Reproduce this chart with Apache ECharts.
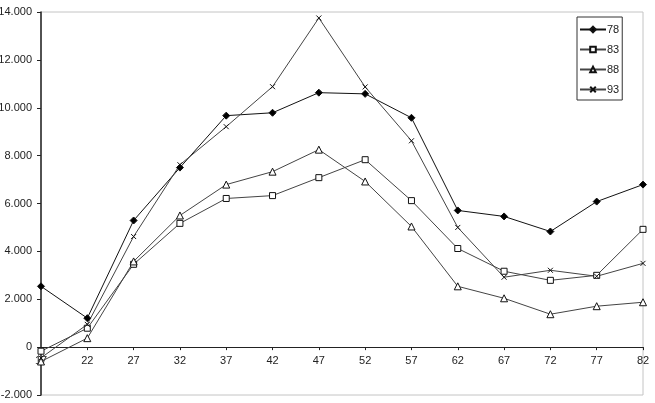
<!DOCTYPE html>
<html lang="en">
  <head>
    <meta charset="UTF-8" />
    <title>Chart</title>
    <script src="https://cdn.jsdelivr.net/npm/echarts@6/dist/echarts.min.js"></script>
    <style>
      body { margin: 0; background: #fff; }
      #main { width: 655px; height: 403px; }
    </style>
  </head>
  <body>
    <div id="main"></div>
    <script>
      // categories (x axis)
      var ages = ["17", "22", "27", "32", "37", "42", "47", "52", "57", "62", "67", "72", "77", "82"];
      // series values
      var s78 = [2540, 1210, 5290, 7500, 9670, 9790, 10630, 10580, 9580, 5710, 5460, 4830, 6080, 6790];
      var s83 = [-170, 790, 3460, 5170, 6210, 6330, 7080, 7830, 6120, 4120, 3170, 2790, 3000, 4920];
      var s88 = [-600, 375, 3580, 5500, 6790, 7330, 8250, 6920, 5040, 2540, 2040, 1375, 1710, 1875];
      var s93 = [-450, 950, 4620, 7620, 9210, 10880, 13750, 10870, 8620, 5000, 2920, 3210, 2960, 3500];
      var yTicks = { min: -2000, max: 14000, interval: 2000 };

      // excel style number: 12000 -> "12.000"
      function fmt(v) {
        if (v === 0) return "0";
        var neg = v < 0;
        var s = String(Math.abs(v)).replace(/\B(?=(\d{3})+(?!\d))/g, ".");
        return (neg ? "-" : "") + s;
      }

      var font = "Liberation Sans, Arial, sans-serif";
      var xMark = "path://M0,0L10,10M10,0L0,10";
      var gridTop = 12, gridBottom = 8, chartH = 403;
      // x axis sits on value 0, so move it up from the grid bottom
      var zeroLift = (chartH - gridTop - gridBottom) * (0 - yTicks.min) / (yTicks.max - yTicks.min);

      function line(name, data, symbol, size, fill, lineColor) {
        return {
          name: name,
          type: "line",
          data: data,
          symbol: symbol,
          symbolSize: size,
          showSymbol: true,
          animation: false,
          lineStyle: { color: lineColor, width: 1 },
          itemStyle: { color: fill, borderColor: "#111", borderWidth: 1 }
        };
      }

      var chart = echarts.init(document.getElementById("main"));
      chart.setOption({
        backgroundColor: "#fff",
        animation: false,
        grid: {
          left: 41, right: 12, top: gridTop, bottom: gridBottom,
          outerBoundsMode: "none",
          containLabel: false,
          show: true, borderColor: "#c4c4c4", borderWidth: 1
        },
        legend: {
          orient: "vertical",
          left: 577, top: 17,
          padding: [7, 3, 5, 2],
          itemGap: 9,
          itemWidth: 26, itemHeight: 7,
          borderColor: "#333", borderWidth: 1,
          backgroundColor: "#fff",
          textStyle: { fontFamily: font, fontSize: 11, color: "#222", padding: [0, 0, 0, -4] },
          data: ["78", "83", "88", "93"]
        },
        xAxis: {
          type: "category",
          data: ages,
          boundaryGap: false,
          offset: -zeroLift,
          axisLine: { onZero: false, lineStyle: { color: "#222", width: 1 } },
          axisTick: { alignWithLabel: true, length: 3, lineStyle: { color: "#222" } },
          axisLabel: { fontFamily: font, fontSize: 11, color: "#222", margin: 8 },
          splitLine: { show: false }
        },
        yAxis: {
          type: "value",
          min: yTicks.min, max: yTicks.max, interval: yTicks.interval,
          axisLine: { show: true, onZero: false, lineStyle: { color: "#222", width: 1.5 } },
          axisTick: { show: true, length: 4, lineStyle: { color: "#222" } },
          axisLabel: { fontFamily: font, fontSize: 11, color: "#222", margin: 9, formatter: fmt },
          splitLine: { show: false }
        },
        series: [
          line("78", s78, "diamond", 7, "#000", "#111"),
          line("83", s83, "rect", 6, "#fff", "#444"),
          line("88", s88, "triangle", 7, "#fff", "#444"),
          line("93", s93, xMark, 5, "transparent", "#444")
        ]
      });
    </script>
  </body>
</html>
